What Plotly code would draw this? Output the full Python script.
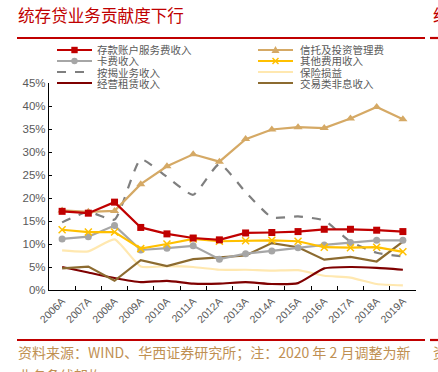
import plotly.graph_objects as go

years = ["2006A", "2007A", "2008A", "2009A", "2010A", "2011A", "2012A",
         "2013A", "2014A", "2015A", "2016A", "2017A", "2018A", "2019A"]

deposit_fee = [17.1, 16.7, 19.1, 13.6, 12.2, 11.3, 10.9, 12.4, 12.5, 12.7, 13.2, 13.2, 13.0, 12.7]
trust_fee = [17.3, 17.0, 17.2, 23.0, 26.9, 29.5, 27.9, 32.8, 34.9, 35.4, 35.2, 37.3, 39.8, 37.1]
card_fee = [11.1, 11.6, 14.0, 8.7, 9.1, 9.6, 6.7, 7.9, 8.5, 9.2, 9.8, 10.3, 10.8, 10.8]
other_fee = [13.1, 12.6, 12.6, 9.0, 10.0, 11.1, 10.6, 10.7, 10.8, 10.6, 9.3, 9.2, 9.3, 8.3]
mortgage = [14.7, 17.0, 15.3, 28.4, 24.6, 20.7, 27.4, 21.3, 15.8, 16.0, 15.1, 10.5, 8.1, 7.3]
insurance = [8.6, 8.4, 11.0, 5.1, 5.2, 5.0, 4.4, 4.4, 4.2, 4.3, 3.1, 2.7, 1.3, 1.0]
lease = [5.0, 3.8, 2.6, 1.7, 2.0, 1.4, 1.4, 1.7, 1.3, 1.5, 4.7, 5.0, 4.8, 4.4]
trading = [4.7, 5.1, 2.0, 6.5, 5.2, 6.7, 7.1, 7.5, 10.2, 9.3, 6.6, 7.2, 6.2, 10.5]

names = ["存款账户服务费收入", "信托及投资管理费", "卡费收入", "其他费用收入",
         "按揭业务收入", "保险损益", "经营租赁收入", "交易类非息收入"]

y_ticks = [0, 5, 10, 15, 20, 25, 30, 35, 40, 45]
y_tick_labels = ["0%", "5%", "10%", "15%", "20%", "25%", "30%", "35%", "40%", "45%"]

C_RED = "#C00000"
C_TAN = "#D5A965"
C_GRAY = "#A6A6A6"
C_GOLD = "#FFC000"
C_DGRAY = "#7F7F7F"
C_PALE = "#FFE8B0"
C_DRED = "#7F0000"
C_BROWN = "#8C6B30"

W, H = 438, 372
L, R, T, B = 49, 416, 83, 290

fig = go.Figure()

def add(vals, name, color, dash="solid", marker=None, msize=7, smooth=False, lw=2.2):
    kw = dict(x=years, y=vals, name=name, showlegend=False,
              line=dict(color=color, width=lw, dash=dash,
                        shape="spline" if smooth else "linear",
                        smoothing=0.5 if smooth else None),
              hoverinfo="skip")
    if marker:
        kw["mode"] = "lines+markers"
        kw["marker"] = dict(symbol=marker, size=msize, color=color,
                            line=dict(color=color, width=1.5 if marker == "x-thin" else 0))
    else:
        kw["mode"] = "lines"
    fig.add_trace(go.Scatter(**kw))

add(insurance, names[5], C_PALE, smooth=True)
add(lease, names[6], C_DRED, smooth=True)
add(trading, names[7], C_BROWN)
add(mortgage, names[4], C_DGRAY, dash="dash", smooth=True)
add(card_fee, names[2], C_GRAY, marker="circle", msize=7)
add(other_fee, names[3], C_GOLD, marker="x-thin", msize=7)
add(trust_fee, names[1], C_TAN, marker="triangle-up", msize=8)
add(deposit_fee, names[0], C_RED, marker="square", msize=7)

def fx(px):
    return (px - L) / (R - L)

def fy(py):
    return (B - py) / (B - T)

shapes = []
annotations = []

# legend (manual, 2 columns x 4 rows)
legend_items = [
    (names[0], C_RED, "solid", "square"),
    (names[1], C_TAN, "solid", "triangle"),
    (names[2], C_GRAY, "solid", "circle"),
    (names[3], C_GOLD, "solid", "x"),
    (names[4], C_DGRAY, "dash", None),
    (names[5], C_PALE, "solid", None),
    (names[6], C_DRED, "solid", None),
    (names[7], C_BROWN, "solid", None),
]
rows_y = [50, 61, 72, 83]
cols = [(57, 92, 95), (258, 293, 298)]
for i, (nm, col, dash, mk) in enumerate(legend_items):
    r, c = i // 2, i % 2
    x0, x1, tx = cols[c]
    y = rows_y[r]
    shapes.append(dict(type="line", xref="paper", yref="paper",
                       x0=fx(x0), x1=fx(x1), y0=fy(y), y1=fy(y),
                       line=dict(color=col, width=2.2, dash=dash)))
    cx = (x0 + x1) / 2
    s = 3.2
    if mk == "square":
        shapes.append(dict(type="rect", xref="paper", yref="paper",
                           x0=fx(cx - s), x1=fx(cx + s), y0=fy(y - s), y1=fy(y + s),
                           fillcolor=col, line=dict(width=0)))
    elif mk == "circle":
        shapes.append(dict(type="circle", xref="paper", yref="paper",
                           x0=fx(cx - s), x1=fx(cx + s), y0=fy(y - s), y1=fy(y + s),
                           fillcolor=col, line=dict(width=0)))
    elif mk == "triangle":
        p = f"M {fx(cx - 4)} {fy(y + 3)} L {fx(cx + 4)} {fy(y + 3)} L {fx(cx)} {fy(y - 4)} Z"
        shapes.append(dict(type="path", xref="paper", yref="paper", path=p,
                           fillcolor=col, line=dict(width=0)))
    elif mk == "x":
        p = (f"M {fx(cx - 3)} {fy(y - 3)} L {fx(cx + 3)} {fy(y + 3)} "
             f"M {fx(cx - 3)} {fy(y + 3)} L {fx(cx + 3)} {fy(y - 3)}")
        shapes.append(dict(type="path", xref="paper", yref="paper", path=p,
                           line=dict(color=col, width=1.5)))
    annotations.append(dict(xref="paper", yref="paper", x=fx(tx), y=fy(y),
                            xanchor="left", yanchor="middle", showarrow=False,
                            text=nm, font=dict(size=10.5, color="#595959",
                                               family="Noto Sans CJK SC")))

# header / footer rules
for y in (38, 340):
    shapes.append(dict(type="line", xref="paper", yref="paper",
                       x0=fx(17), x1=fx(425), y0=fy(y), y1=fy(y),
                       line=dict(color=C_RED, width=2.2)))
    shapes.append(dict(type="line", xref="paper", yref="paper",
                       x0=fx(430), x1=fx(440), y0=fy(y), y1=fy(y),
                       line=dict(color=C_RED, width=2.2)))

annotations.append(dict(xref="paper", yref="paper", x=fx(16), y=fy(15),
                        xanchor="left", yanchor="middle", showarrow=False,
                        text="统存贷业务贡献度下行",
                        font=dict(size=16.6, color=C_RED, family="Noto Sans CJK SC")))
annotations.append(dict(xref="paper", yref="paper", x=fx(431), y=fy(15),
                        xanchor="left", yanchor="middle", showarrow=False,
                        text="统", font=dict(size=16.6, color=C_RED, family="Noto Sans CJK SC")))
annotations.append(dict(xref="paper", yref="paper", x=fx(16), y=fy(352),
                        xanchor="left", yanchor="middle", showarrow=False,
                        text="资料来源：WIND、华西证券研究所；注：2020 年 2 月调整为新",
                        font=dict(size=14, color="#BF9052", family="Noto Sans CJK SC")))
annotations.append(dict(xref="paper", yref="paper", x=fx(16), y=fy(375),
                        xanchor="left", yanchor="middle", showarrow=False,
                        text="业务条线架构",
                        font=dict(size=14, color="#BF9052", family="Noto Sans CJK SC")))
annotations.append(dict(xref="paper", yref="paper", x=fx(431), y=fy(352),
                        xanchor="left", yanchor="middle", showarrow=False,
                        text="资", font=dict(size=14, color="#BF9052", family="Noto Sans CJK SC")))

fig.update_layout(
    width=W, height=H,
    margin=dict(l=L, r=W - R, t=T, b=H - B, pad=0),
    paper_bgcolor="white", plot_bgcolor="white",
    shapes=shapes, annotations=annotations,
    showlegend=False,
    font=dict(family="Liberation Sans, Arial, sans-serif", color="#595959"),
)
fig.update_xaxes(type="category", range=[-0.5, 13.5], tickangle=-45,
                 showline=True, linecolor="#000000", linewidth=1.2,
                 ticks="inside", ticklen=4, tickcolor="#000000", tickson="boundaries",
                 showgrid=False, zeroline=False,
                 tickfont=dict(size=10.5, color="#595959"))
fig.update_yaxes(range=[0, 45], tickmode="array", tickvals=y_ticks, ticktext=y_tick_labels,
                 showline=True, linecolor="#000000", linewidth=1.2,
                 ticks="inside", ticklen=3, tickcolor="#000000",
                 showgrid=False, zeroline=False,
                 tickfont=dict(size=11.5, color="#595959"))

fig.write_html("out.html", config={"displayModeBar": False},
               post_script="document.body.style.margin='0';document.body.style.padding='0';")
